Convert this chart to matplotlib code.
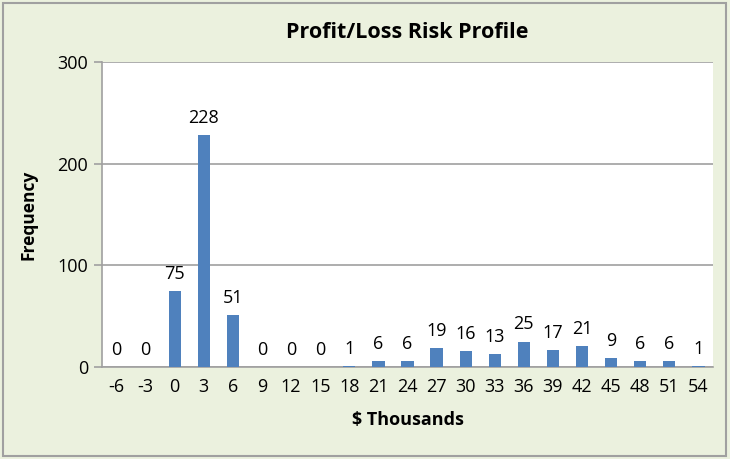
import numpy as np
import matplotlib.pyplot as plt
from matplotlib.patches import Rectangle

plt.rcParams['font.family'] = ['Open Sans', 'DejaVu Sans']

bins = ['-6', '-3', '0', '3', '6', '9', '12', '15', '18', '21', '24',
        '27', '30', '33', '36', '39', '42', '45', '48', '51', '54']
freq = [0, 0, 75, 228, 51, 0, 0, 0, 1, 6, 6,
        19, 16, 13, 25, 17, 21, 9, 6, 6, 1]

fig = plt.figure(figsize=(7.3, 4.59), dpi=100)
fig.patch.set_facecolor('#ebf1de')
fig.patches.append(Rectangle((0.004, 0.007), 0.991, 0.986, transform=fig.transFigure,
                             fill=False, edgecolor='#a0a0a0', linewidth=1.5))

ax = fig.add_axes([0.1397, 0.2004, 0.837, 0.6646])
ax.set_facecolor('white')
x = np.arange(len(bins))
bars = ax.bar(x, freq, width=0.42, color='#4f81bd', zorder=3)
for xi, v in zip(x, freq):
    ax.text(xi, v + 8, str(v), ha='center', va='bottom', fontsize=13, color='black')

ax.set_xlim(-0.5, len(bins) - 0.5)
ax.set_ylim(0, 300)
ax.set_yticks([0, 100, 200, 300])
ax.set_xticks(x)
ax.set_xticklabels(bins)
ax.tick_params(axis='both', labelsize=13, colors='black')
ax.tick_params(axis='x', length=0, pad=8)
ax.tick_params(axis='y', length=6, color='#a0a0a0', width=1.2, pad=4)
ax.grid(axis='y', color='#a0a0a0', linewidth=1.2, zorder=0)
for s in ['top', 'right']:
    ax.spines[s].set_visible(False)
for s in ['left', 'bottom']:
    ax.spines[s].set_color('#a0a0a0')
    ax.spines[s].set_linewidth(1.2)

ax.set_title('Profit/Loss Risk Profile', fontsize=15.5, fontweight='bold', pad=17)
ax.set_xlabel('$ Thousands', fontsize=13, fontweight='bold', labelpad=11)
ax.set_ylabel('Frequency', fontsize=12.5, fontweight='bold', labelpad=14)

fig.savefig('out.png', dpi=100, facecolor=fig.get_facecolor())
